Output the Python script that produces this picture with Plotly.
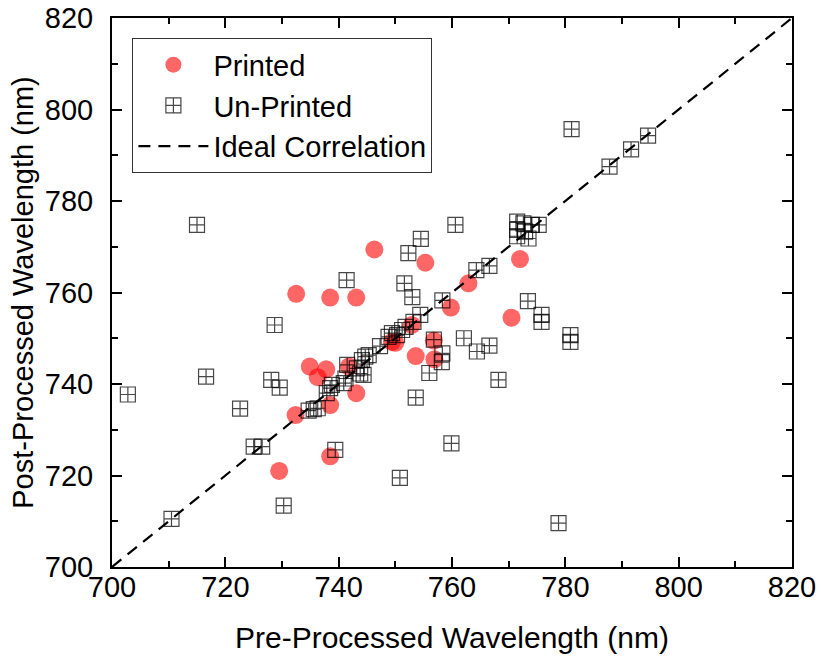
import plotly.graph_objects as go

printed_x = [729.5, 732.4, 732.5, 734.9, 736.3, 737.8, 738.5, 738.5, 738.5, 741.8,
             743.1, 743.1, 746.3, 749.4, 750.0, 752.9, 753.6, 755.3, 756.8, 756.9,
             759.8, 762.9, 770.5, 772.0]
printed_y = [721.0, 733.2, 759.7, 743.8, 741.5, 743.2, 735.4, 724.2, 758.9, 743.8,
             738.0, 758.9, 769.4, 749.2, 749.0, 752.9, 746.1, 766.5, 749.5, 745.4,
             756.7, 762.0, 754.5, 767.3]

unprinted_x = [702.8, 710.5, 715.0, 716.6, 722.6, 725.0, 726.5, 728.1, 728.7, 729.6,
               730.3, 734.7, 735.6, 736.3, 737.9, 738.5, 738.8, 739.4, 740.9, 741.2,
               741.5, 741.4, 743.2, 743.8, 744.1, 744.4, 744.7, 745.3, 747.3, 748.8,
               749.4, 750.3, 750.8, 751.2, 751.6, 751.8, 752.3, 753.0, 753.2, 753.6,
               754.4, 754.5, 756.0, 756.8, 758.2, 758.3, 758.3, 759.9, 760.6, 762.1,
               764.3, 764.4, 766.6, 766.6, 768.2, 771.5, 771.5, 771.5, 772.6, 772.9,
               773.5, 774.1, 775.3, 773.4, 775.8, 775.8, 778.8, 780.9, 780.9, 781.1,
               787.8, 791.6, 794.6]
unprinted_y = [737.7, 710.5, 774.8, 741.6, 734.6, 726.3, 726.3, 740.9, 752.9, 739.2,
               713.4, 734.2, 734.5, 734.7, 738.0, 739.1, 739.8, 725.6, 740.2, 741.2,
               744.2, 762.7, 743.4, 742.3, 745.2, 742.0, 746.0, 746.3, 748.3, 750.3,
               751.1, 750.7, 719.5, 751.8, 762.0, 752.5, 768.6, 759.0, 753.6, 737.0,
               755.1, 771.7, 742.4, 749.7, 744.8, 758.3, 746.7, 727.0, 774.8, 750.0,
               764.9, 747.1, 765.8, 748.4, 740.9, 775.5, 773.7, 772.3, 775.1, 773.3,
               771.8, 774.8, 774.8, 758.1, 755.1, 753.6, 709.6, 750.7, 749.2, 795.7,
               787.5, 791.3, 794.3]

ideal_x = [700, 820]
ideal_y = [700, 820]

tick_vals = [700, 720, 740, 760, 780, 800, 820]
tick_text = ["700", "720", "740", "760", "780", "800", "820"]

FONT = "Liberation Sans, Arial, sans-serif"

fig = go.Figure()
fig.add_trace(go.Scatter(
    x=printed_x, y=printed_y, mode="markers", name="Printed",
    marker=dict(symbol="circle", size=18, color="rgba(255,0,0,0.6)", line=dict(width=0)),
))
fig.add_trace(go.Scatter(
    x=unprinted_x, y=unprinted_y, mode="markers", name="Un-Printed",
    marker=dict(symbol="square-cross-open", size=15, color="rgba(0,0,0,0.72)",
                line=dict(width=1.2, color="rgba(0,0,0,0.72)")),
))
fig.add_trace(go.Scatter(
    x=ideal_x, y=ideal_y, mode="lines", name="Ideal Correlation",
    line=dict(color="black", width=2.2, dash="12px,8px"),
))

axis_common = dict(
    range=[700, 820], tickmode="array", tickvals=tick_vals, ticktext=tick_text,
    showgrid=False, zeroline=False, showline=True, linecolor="black", linewidth=2,
    mirror="ticks", ticks="inside", ticklen=10, tickwidth=2, tickcolor="black",
    minor=dict(ticks="inside", dtick=10, tick0=700, ticklen=6, tickwidth=1.5, tickcolor="black"),
    tickfont=dict(family=FONT, size=29, color="black"),
    automargin=False, ticklabeloverflow="allow",
)

fig.update_xaxes(**axis_common, ticklabelstandoff=-7,
                 title=dict(text="Pre-Processed Wavelength (nm)", font=dict(family=FONT, size=30, color="black"), standoff=25))
fig.update_yaxes(**axis_common, ticklabelstandoff=11,
                 title=dict(text="Post-Processed Wavelength (nm)", font=dict(family=FONT, size=29, color="black"), standoff=3))

fig.update_layout(
    width=821, height=660,
    margin=dict(l=112, r=29, t=18, b=93),
    plot_bgcolor="white", paper_bgcolor="white",
    font=dict(family=FONT, color="black"),
    showlegend=True,
    legend=dict(
        x=0.03, y=0.963, xanchor="left", yanchor="top",
        bgcolor="white", bordercolor="#333", borderwidth=1,
        font=dict(family=FONT, size=29, color="black"),
        itemwidth=70,
    ),
)

# remove the browser's default 8px body margin so the figure sits at the window's corner
fig.write_html("out.html", config={"displayModeBar": False},
               post_script="document.body.style.margin='0';")
